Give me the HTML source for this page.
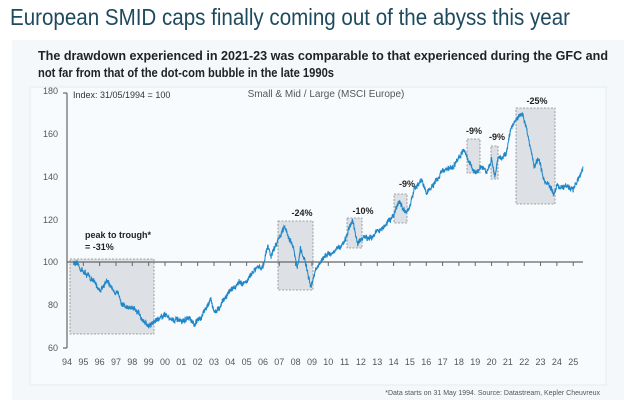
<!DOCTYPE html>
<html><head><meta charset="utf-8"><style>
body{margin:0;background:#fff;width:624px;height:400px;overflow:hidden;font-family:"Liberation Sans",sans-serif}
</style></head><body>
<svg width="624" height="400" xmlns="http://www.w3.org/2000/svg" font-family="Liberation Sans, sans-serif">
<text x="10" y="25" font-size="23" fill="#1d4a5e" textLength="560" lengthAdjust="spacingAndGlyphs">European SMID caps finally coming out of the abyss this year</text>
<rect x="12" y="40" width="612" height="360" fill="#f4f8fb"/>
<rect x="30" y="87" width="576" height="298" fill="#f8fbfd" stroke="#e6ebef"/>
<text x="38" y="60" font-size="13" font-weight="bold" fill="#222" textLength="570" lengthAdjust="spacingAndGlyphs">The drawdown experienced in 2021-23 was comparable to that experienced during the GFC and</text>
<text x="38" y="77" font-size="13" font-weight="bold" fill="#222" textLength="296" lengthAdjust="spacingAndGlyphs">not far from that of the dot-com bubble in the late 1990s</text>
<g fill="#dde1e5" stroke="#888" stroke-dasharray="2,1.5" stroke-width="0.8">
<rect x="70" y="259" width="84" height="75"/>
<rect x="278" y="221" width="35" height="69"/>
<rect x="347" y="218" width="15" height="30"/>
<rect x="394" y="194" width="13" height="29"/>
<rect x="467" y="139" width="13" height="34"/>
<rect x="491" y="146" width="7" height="33"/>
<rect x="516" y="108" width="39" height="96"/>
</g>
<g stroke="#666" stroke-width="1.2" fill="none">
<line x1="67" y1="93" x2="67" y2="348"/><line x1="63" y1="93" x2="67" y2="93"/><line x1="63" y1="348" x2="67" y2="348"/>
<line x1="67" y1="262" x2="583" y2="262"/>
</g>
<g id="ticks" stroke="#666" stroke-width="1"></g>
<g font-size="9" fill="#555" text-anchor="end">
<text x="58" y="94">180</text><text x="58" y="137">160</text><text x="58" y="180">140</text><text x="58" y="223">120</text><text x="58" y="265">100</text><text x="58" y="308">80</text><text x="58" y="351">60</text>
</g>
<g id="xl" font-size="9" fill="#555" text-anchor="middle"></g>
<text x="73" y="98" font-size="9" fill="#333">Index: 31/05/1994 = 100</text>
<text x="326" y="97" font-size="10" fill="#555" text-anchor="middle">Small &amp; Mid / Large (MSCI Europe)</text>
<g font-size="9" font-weight="bold" fill="#222" text-anchor="middle">
<text x="537" y="104">-25%</text><text x="474" y="134">-9%</text><text x="497" y="140">-9%</text><text x="407" y="187">-9%</text><text x="363" y="214">-10%</text><text x="302" y="216">-24%</text>
</g>
<text x="85" y="238" font-size="9" font-weight="bold" fill="#222">peak to trough*</text>
<text x="85" y="250" font-size="9" font-weight="bold" fill="#222">= -31%</text>
<polyline id="ln" fill="none" stroke="#1f86c8" stroke-width="1" points=""/>
<text x="600" y="395" font-size="7" fill="#555" text-anchor="end">*Data starts on 31 May 1994. Source: Datastream, Kepler Cheuvreux</text>
</svg>
<script>
var X=function(y){return 67+(y-1994)*16.33},Y=function(v){return 262-(v-100)*2.15};
var t=document.getElementById('ticks'),xl=document.getElementById('xl'),ns='http://www.w3.org/2000/svg';
for(var i=0;i<=31;i++){var x=X(1994+i);var l=document.createElementNS(ns,'line');l.setAttribute('x1',x);l.setAttribute('x2',x);l.setAttribute('y1',262);l.setAttribute('y2',266);t.appendChild(l);
var tx=document.createElementNS(ns,'text');tx.setAttribute('x',x);tx.setAttribute('y',365);tx.textContent=String((94+i)%100).padStart(2,'0');xl.appendChild(tx);}
var k=[[1994.4,100],[1995.5,92],[1996,87],[1996.4,91],[1997,86],[1997.5,80],[1998,78],[1998.5,75],[1999,70],[1999.3,72],[2000,76],[2000.5,73],[2001,72],[2001.5,74],[2001.8,70],[2002.5,78],[2002.8,84],[2003,77],[2003.3,78],[2004,87],[2004.5,90],[2005,91],[2005.5,96],[2006,98],[2006.3,108],[2006.5,103],[2007.3,117],[2007.8,108],[2008.1,97],[2008.3,106],[2008.6,100],[2008.9,88],[2009.2,96],[2009.5,100],[2010,104],[2010.5,105],[2011,110],[2011.3,116],[2011.5,118],[2011.8,108],[2012,110],[2012.5,112],[2013,114],[2013.5,117],[2014,121],[2014.3,129],[2014.8,122],[2015.3,134],[2015.7,138],[2016,132],[2016.5,136],[2017,142],[2017.5,143],[2018,148],[2018.3,153],[2018.6,147],[2018.9,142],[2019.3,144],[2019.7,142],[2020,148],[2020.2,140],[2020.4,148],[2020.9,150],[2021.2,163],[2021.5,166],[2021.9,169],[2022.2,160],[2022.6,145],[2022.9,148],[2023.2,138],[2023.5,136],[2023.8,131],[2024,136],[2024.5,135],[2025,134],[2025.3,138],[2025.6,144]];
var s=12345;function r(){s=(s*16807)%2147483647;return s/2147483647-0.5;}
var p=[],n=0,m=0;
for(var j=0;j<k.length-1;j++){var a=k[j],b=k[j+1],steps=Math.max(2,Math.round((b[0]-a[0])*80));
for(var q=0;q<steps;q++){var f=q/steps,y=a[0]+(b[0]-a[0])*f,v=a[1]+(b[1]-a[1])*f;m=m*0.9+r()*0.8;n=r()*2.2;p.push(X(y).toFixed(1)+','+Y(v+m+n).toFixed(1));}}
p.push(X(2025.6)+','+Y(144));
document.getElementById('ln').setAttribute('points',p.join(' '));
</script>
</body></html>
